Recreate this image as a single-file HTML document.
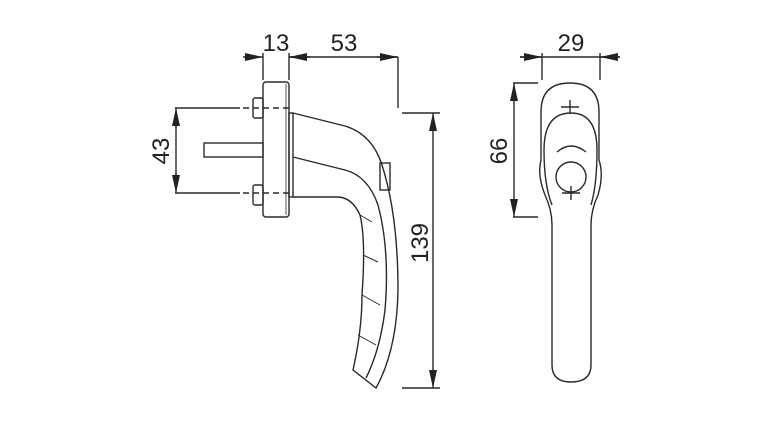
<!DOCTYPE html>
<html><head><meta charset="utf-8"><style>
html,body{margin:0;padding:0;background:#fff;}
svg{display:block;}
text{font-family:"Liberation Sans",sans-serif;font-size:24px;fill:#222;}
</style></head><body>
<svg width="768" height="422" viewBox="0 0 768 422" xmlns="http://www.w3.org/2000/svg">
<defs>
<marker id="a" viewBox="0 0 10 10" refX="10" refY="5" markerWidth="18" markerHeight="8" orient="auto-start-reverse" markerUnits="userSpaceOnUse" preserveAspectRatio="none"><path d="M0,0L10,5L0,10z" fill="#222"/></marker>
</defs>
<g fill="none" stroke="#2a2a2a" stroke-width="1.4">
<line x1="263" y1="53" x2="263" y2="80"/>
<line x1="289" y1="53" x2="289" y2="80"/>
<line x1="398" y1="57" x2="398" y2="108"/>
<line x1="243" y1="57" x2="263" y2="57" marker-end="url(#a)"/>
<line x1="289" y1="57" x2="398" y2="57"/>
<path d="M310,57L289,57" marker-end="url(#a)"/>
<path d="M377,57L398,57" marker-end="url(#a)"/>
<rect x="263" y="82" width="26" height="135" rx="3"/>
<line x1="286" y1="84" x2="286" y2="215" stroke-width="0.8"/>
<rect x="253" y="98" width="10" height="20" rx="2"/>
<rect x="253" y="185" width="10" height="20" rx="2"/>
<rect x="204" y="143" width="59" height="14"/>
<line x1="243" y1="108" x2="289" y2="108" stroke-dasharray="6,4"/>
<line x1="243" y1="193" x2="289" y2="193" stroke-dasharray="6,4"/>
<line x1="175" y1="108" x2="240" y2="108"/>
<line x1="175" y1="193" x2="240" y2="193"/>
<line x1="176" y1="125" x2="176" y2="176"/>
<path d="M176,128L176,108" marker-end="url(#a)"/>
<path d="M176,173L176,193" marker-end="url(#a)"/>
<rect x="289" y="113" width="4" height="84"/>
<path d="M293,113 L345,126 Q372,134 382,165 Q398,215 398,290 Q397,350 376,388 L353,370 Q362,330 362,295 Q366,240 360,215 Q352,197 337,197 L293,197"/>
<path d="M293,157 L345,170 Q368,176 378,205 Q390,250 385,310 Q380,350 366,378"/>
<path d="M360,215 L372,222 M363,255 L378,262 M362,295 L380,305 M358,335 L376,345" stroke-width="1"/>
<rect x="380" y="163" width="10" height="27"/>
<line x1="402" y1="113" x2="440" y2="113"/>
<line x1="402" y1="388" x2="440" y2="388"/>
<line x1="433" y1="133" x2="433" y2="368"/>
<path d="M433,133L433,113" marker-end="url(#a)"/>
<path d="M433,368L433,388" marker-end="url(#a)"/>
<line x1="542" y1="53" x2="542" y2="80"/>
<line x1="600" y1="53" x2="600" y2="80"/>
<line x1="520" y1="57" x2="620" y2="57"/>
<path d="M520,57L542,57" marker-end="url(#a)"/>
<path d="M620,57L600,57" marker-end="url(#a)"/>
<line x1="513" y1="83" x2="538" y2="83"/>
<line x1="513" y1="217" x2="538" y2="217"/>
<line x1="514" y1="103" x2="514" y2="197"/>
<path d="M514,103L514,83" marker-end="url(#a)"/>
<path d="M514,197L514,217" marker-end="url(#a)"/>
<path d="M541,160 L541,112 Q541,83 570,83 Q599,83 599,112 L599,160 Q604,175 598,195 Q591,210 591,225 L591,365 Q591,382 571,382 Q552,382 552,365 L552,225 Q552,210 545,195 Q537,175 541,160Z"/>
<path d="M544,150 Q544,113 571,113 Q597,113 597,150 Q597,185 591,205 M544,150 Q544,185 552,205"/>
<path d="M561,107H579M570,100V114"/>
<path d="M557,152 Q571,140 586,152"/>
<circle cx="571" cy="177" r="15"/>
<path d="M562,193H580M571,186V200"/>
</g>
<text x="276" y="51" text-anchor="middle">13</text>
<text x="344" y="51" text-anchor="middle">53</text>
<text x="571" y="51" text-anchor="middle">29</text>
<text transform="translate(169,151) rotate(-90)" text-anchor="middle">43</text>
<text transform="translate(428,243) rotate(-90)" text-anchor="middle">139</text>
<text transform="translate(507,151) rotate(-90)" text-anchor="middle">66</text>
</svg>
</body></html>
